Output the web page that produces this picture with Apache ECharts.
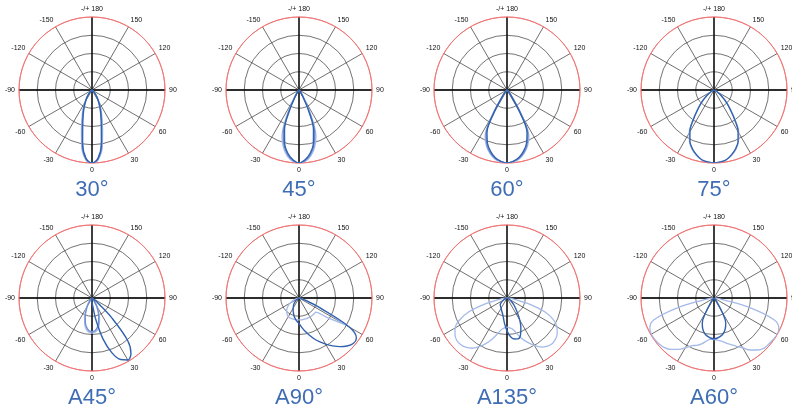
<!DOCTYPE html>
<html><head><meta charset="utf-8">
<script src="https://cdn.jsdelivr.net/npm/echarts@6/dist/echarts.min.js"></script>
<style>html,body{margin:0;padding:0;background:#fff}#c{width:792px;height:407px}</style>
</head><body><div id="c"></div>
<script>
// Angles (degrees) for every series, -90 .. 90 step 5
const ANGLES = [-90,-85,-80,-75,-70,-65,-60,-55,-50,-45,-40,-35,-30,-25,-20,-15,-10,-5,0,5,10,15,20,25,30,35,40,45,50,55,60,65,70,75,80,85,90];
const TITLES = ['30°','45°','60°','75°','A45°','A90°','A135°','A60°'];
const LABEL_180 = '-/+ 180';

// relative intensity per angle
const p1Dark  = [0,0,0,0,0,0,0.005,0.01,0.02,0.035,0.065,0.11,0.17,0.25,0.35,0.49,0.74,0.94,1.0,0.94,0.74,0.49,0.35,0.25,0.17,0.11,0.065,0.035,0.02,0.01,0.005,0,0,0,0,0,0];
const p1Mid   = [0,0,0,0,0,0,0,0.01,0.02,0.04,0.07,0.12,0.18,0.27,0.37,0.52,0.77,0.95,1.0,0.95,0.77,0.52,0.37,0.27,0.18,0.12,0.07,0.04,0.02,0.01,0,0,0,0,0,0,0];
const p1Light = [0,0,0,0,0,0,0,0.01,0.025,0.045,0.08,0.13,0.2,0.29,0.4,0.56,0.8,0.96,1.0,0.96,0.8,0.56,0.4,0.29,0.2,0.13,0.08,0.045,0.025,0.01,0,0,0,0,0,0,0];

const p2Dark  = [0,0,0,0,0,0,0,0,0,0.01,0.02,0.04,0.1,0.3,0.58,0.76,0.88,0.96,1.0,0.96,0.88,0.76,0.58,0.3,0.1,0.04,0.02,0.01,0,0,0,0,0,0,0,0,0];
const p2Mid   = [0,0,0,0,0,0,0,0,0,0.01,0.02,0.05,0.13,0.35,0.63,0.79,0.9,0.97,1.0,0.97,0.9,0.79,0.63,0.35,0.13,0.05,0.02,0.01,0,0,0,0,0,0,0,0,0];
const p2Light = [0,0,0,0,0,0,0,0,0,0.01,0.025,0.06,0.16,0.41,0.68,0.82,0.92,0.98,1.0,0.98,0.92,0.82,0.68,0.41,0.16,0.06,0.025,0.01,0,0,0,0,0,0,0,0,0];

const p3Dark  = [0,0,0,0,0,0,0,0,0.01,0.02,0.04,0.11,0.35,0.65,0.78,0.87,0.94,0.98,1.0,0.98,0.94,0.87,0.78,0.65,0.35,0.11,0.04,0.02,0.01,0,0,0,0,0,0,0,0];
const p3Mid   = [0,0,0,0,0,0,0,0,0.01,0.02,0.05,0.13,0.39,0.68,0.8,0.89,0.95,0.98,1.0,0.98,0.95,0.89,0.8,0.68,0.39,0.13,0.05,0.02,0.01,0,0,0,0,0,0,0,0];
const p3Light = [0,0,0,0,0,0,0,0,0.01,0.025,0.06,0.16,0.43,0.71,0.82,0.9,0.96,0.99,1.0,0.99,0.96,0.9,0.82,0.71,0.43,0.16,0.06,0.025,0.01,0,0,0,0,0,0,0,0];

const p4Dark  = [0,0,0,0.005,0.015,0.03,0.05,0.09,0.15,0.24,0.34,0.49,0.66,0.78,0.86,0.92,0.97,0.99,1.0,0.99,0.97,0.92,0.86,0.78,0.66,0.49,0.34,0.24,0.15,0.09,0.05,0.03,0.015,0.005,0,0,0];
const p4Light = [0,0,0,0.005,0.015,0.03,0.055,0.1,0.16,0.25,0.36,0.51,0.68,0.79,0.87,0.93,0.97,0.99,1.0,0.99,0.97,0.93,0.87,0.79,0.68,0.51,0.36,0.25,0.16,0.1,0.055,0.03,0.015,0.005,0,0,0];

const p5Dark  = [0,0,0,0,0,0,0,0,0,0,0,0,0.005,0.01,0.015,0.02,0.03,0.05,0.07,0.11,0.3,0.58,0.8,0.93,0.98,0.93,0.76,0.38,0.11,0.04,0.02,0.01,0.005,0,0,0,0];
const p5Mid   = [0,0,0,0,0,0,0,0,0.01,0.02,0.04,0.07,0.12,0.19,0.27,0.35,0.41,0.45,0.46,0.45,0.41,0.35,0.27,0.19,0.12,0.07,0.04,0.02,0.01,0,0,0,0,0,0,0,0];
const p5Light = [0,0,0,0,0,0,0,0.005,0.01,0.025,0.05,0.09,0.15,0.22,0.3,0.38,0.44,0.47,0.48,0.47,0.44,0.38,0.3,0.22,0.15,0.09,0.05,0.025,0.01,0.005,0,0,0,0,0,0,0];

const p6Dark  = [0,0,0,0,0,0,0.02,0.04,0.06,0.08,0.11,0.13,0.16,0.19,0.22,0.26,0.29,0.32,0.35,0.4,0.46,0.52,0.59,0.66,0.73,0.8,0.87,0.93,0.97,0.96,0.8,0.32,0.1,0.04,0.015,0.005,0];
const p6Light = [0,0.01,0.02,0.04,0.07,0.1,0.14,0.18,0.21,0.24,0.26,0.28,0.29,0.3,0.3,0.3,0.3,0.3,0.3,0.3,0.3,0.3,0.3,0.3,0.3,0.3,0.3,0.3,0.3,0.45,0.74,0.3,0.08,0.03,0.01,0,0];

const p7Dark  = [0,0,0.01,0.015,0.02,0.035,0.05,0.08,0.11,0.13,0.14,0.15,0.16,0.18,0.2,0.23,0.28,0.36,0.45,0.53,0.57,0.58,0.54,0.45,0.35,0.25,0.18,0.13,0.09,0.06,0.04,0.025,0.015,0.01,0.005,0,0];
const p7Light = [0,0.03,0.1,0.3,0.56,0.72,0.82,0.87,0.9,0.9,0.88,0.84,0.77,0.69,0.6,0.51,0.44,0.41,0.4,0.41,0.43,0.5,0.59,0.67,0.75,0.82,0.86,0.88,0.87,0.84,0.79,0.7,0.55,0.3,0.1,0.03,0];

const p8Dark  = [0,0,0,0,0,0,0,0,0,0.01,0.03,0.08,0.22,0.38,0.45,0.5,0.53,0.55,0.56,0.55,0.53,0.5,0.45,0.38,0.22,0.08,0.03,0.01,0,0,0,0,0,0,0,0,0];
const p8Light = [0.01,0.04,0.13,0.52,0.88,0.97,0.99,0.99,0.98,0.96,0.92,0.86,0.79,0.72,0.69,0.65,0.6,0.57,0.57,0.58,0.6,0.64,0.68,0.73,0.79,0.87,0.93,0.97,0.98,0.99,1.0,0.98,0.88,0.5,0.12,0.04,0.01];

const PANEL_SERIES = [
  [['light', p1Light], ['mid', p1Mid], ['dark', p1Dark]],
  [['light', p2Light], ['mid', p2Mid], ['dark', p2Dark]],
  [['light', p3Light], ['mid', p3Mid], ['dark', p3Dark]],
  [['light', p4Light], ['dark', p4Dark]],
  [['light', p5Light], ['mid', p5Mid], ['dark', p5Dark]],
  [['light', p6Light], ['dark', p6Dark]],
  [['light', p7Light], ['dark', p7Dark]],
  [['light', p8Light], ['dark', p8Dark]]
];

// layout
const COL_X = [92, 299, 507, 714];
const ROW_Y = [90, 298];
const TITLE_Y = [190, 398];
const R = 73;
const COLORS = { dark: '#3261ae', mid: '#6d8ed2', light: '#a5bae8' };

const polar = [], angleAxis = [], radiusAxis = [], series = [], graphic = [];
TITLES.forEach((t, i) => {
  const cx = COL_X[i % 4], cy = ROW_Y[Math.floor(i / 4)];
  const a = polar.length;
  polar.push({ center: [cx, cy], radius: R });
  polar.push({ center: [cx, cy], radius: R });
  angleAxis.push({
    polarIndex: a, type: 'value', min: -180, max: 180, interval: 30,
    startAngle: 90, clockwise: false, z: 1,
    axisLine: { lineStyle: { color: '#f07474', width: 1 } },
    axisTick: { show: false },
    axisLabel: { fontSize: 7, margin: 4, color: '#111', fontFamily: 'Liberation Sans',
      formatter: v => (v === 180 || v === -180) ? LABEL_180 : String(v) },
    splitLine: { lineStyle: { color: '#4a4a4a', width: 0.8 } }
  });
  angleAxis.push({
    polarIndex: a + 1, type: 'value', min: -180, max: 180, interval: 90,
    startAngle: 90, clockwise: false, z: 1,
    axisLine: { show: false }, axisTick: { show: false }, axisLabel: { show: false },
    splitLine: { show: true, lineStyle: { color: '#000', width: 1.3 } }
  });
  radiusAxis.push({
    polarIndex: a, type: 'value', min: 0, max: 1, interval: 0.25, z: 1,
    axisLine: { show: false }, axisTick: { show: false }, axisLabel: { show: false },
    splitLine: { lineStyle: { color: ['#4f4f4f', '#4f4f4f', '#4f4f4f', '#4f4f4f', '#f07474'], width: 0.8 } }
  });
  radiusAxis.push({ polarIndex: a + 1, type: 'value', min: 0, max: 1, show: false });
  PANEL_SERIES[i].forEach(([tone, vals], k) => {
    series.push({
      type: 'line', coordinateSystem: 'polar', polarIndex: a,
      data: ANGLES.map((ang, j) => [vals[j], ang]),
      showSymbol: false, smooth: 0.35, z: 5 + k,
      lineStyle: { color: COLORS[tone], width: tone === 'dark' ? 1.4 : 1.3 },
      silent: true
    });
  });
  graphic.push({
    type: 'text', x: cx, y: TITLE_Y[Math.floor(i / 4)],
    style: { text: t, fontSize: 22, fill: '#3f6db5', fontFamily: 'Liberation Sans',
      align: 'center', verticalAlign: 'middle' }
  });
});

const chart = echarts.init(document.getElementById('c'), null, { renderer: 'canvas' });
chart.setOption({ animation: false, backgroundColor: '#fff', polar, angleAxis, radiusAxis, series, graphic });
</script>
</body></html>
